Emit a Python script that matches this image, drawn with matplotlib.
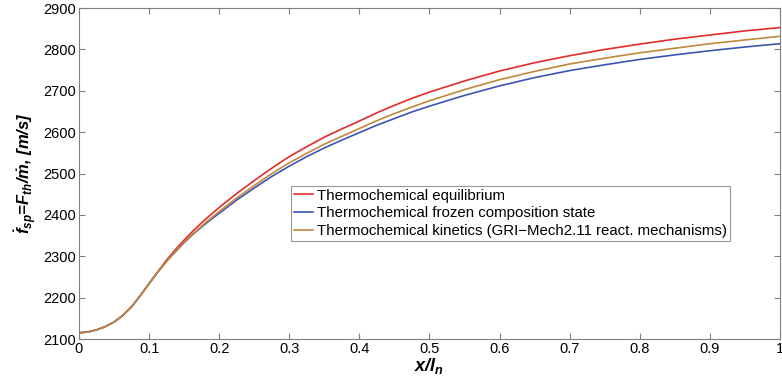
import matplotlib.pyplot as plt

# x/l_n positions
x = [0, 0.0125, 0.025, 0.0375, 0.05, 0.0625, 0.075, 0.0875, 0.1, 0.1125, 0.125,
     0.1375, 0.15, 0.1625, 0.175, 0.1875, 0.2, 0.225, 0.25, 0.275, 0.3, 0.325,
     0.35, 0.375, 0.4, 0.425, 0.45, 0.475, 0.5, 0.55, 0.6, 0.65, 0.7, 0.75,
     0.8, 0.85, 0.9, 0.95, 1.0]

# specific thrust [m/s]
equilibrio = [2115, 2117, 2122, 2130, 2141, 2157, 2178, 2205, 2234, 2263, 2291,
              2316, 2339, 2361, 2381, 2400, 2418, 2452, 2483, 2513, 2541, 2565,
              2588, 2608, 2627, 2647, 2665, 2682, 2697, 2724, 2748, 2768, 2785, 2800,
              2813, 2825, 2835, 2845, 2853]
congelado = [2115, 2117, 2122, 2130, 2141, 2157, 2178, 2205, 2234, 2262, 2288,
             2311, 2333, 2353, 2371, 2388, 2404, 2436, 2465, 2493, 2518, 2541,
             2562, 2581, 2599, 2617, 2633, 2649, 2663, 2689, 2712, 2732, 2749, 2763,
             2776, 2787, 2797, 2806, 2814]
cinetica = [2115, 2117, 2122, 2130, 2141, 2157, 2178, 2205, 2234, 2262, 2288,
            2312, 2334, 2354, 2373, 2391, 2408, 2441, 2471, 2500, 2526, 2549,
            2571, 2590, 2609, 2628, 2645, 2661, 2676, 2703, 2727, 2747, 2765, 2779,
            2792, 2803, 2814, 2823, 2832]

nomes = ['Thermochemical equilibrium',
         'Thermochemical frozen composition state',
         'Thermochemical kinetics (GRI\u2212Mech2.11 react. mechanisms)']
cores = ['#e32b2b', '#3b55b3', '#c0883a']

plt.rcParams['font.family'] = ['Liberation Sans', 'DejaVu Sans']
plt.rcParams['mathtext.fontset'] = 'custom'
plt.rcParams['mathtext.rm'] = 'Liberation Sans:bold:italic'
plt.rcParams['mathtext.it'] = 'Liberation Sans:bold:italic'
plt.rcParams['mathtext.bf'] = 'Liberation Sans:bold:italic'

fig = plt.figure(figsize=(7.82, 3.87), dpi=100)
ax = fig.add_axes([0.101, 0.124, 0.8964, 0.855])

for serie, nome, cor in zip([equilibrio, congelado, cinetica], nomes, cores):
    ax.plot(x, serie, color=cor, linewidth=1.2, label=nome)

ax.set_xlim(0, 1)
ax.set_ylim(2100, 2900)
ax.set_xticks([0, 0.1, 0.2, 0.3, 0.4, 0.5, 0.6, 0.7, 0.8, 0.9, 1])
ax.set_xticklabels(['0', '0.1', '0.2', '0.3', '0.4', '0.5', '0.6', '0.7', '0.8', '0.9', '1'])
ax.set_yticks(range(2100, 2901, 100))
ax.tick_params(direction='in', length=4, width=0.8, color='#808080',
               top=True, right=True, labelsize=10.5, pad=2)
for s in ax.spines.values():
    s.set_color('#808080')
    s.set_linewidth(0.8)

ax.set_xlabel(r'$x/l_n$', fontsize=13, labelpad=0)
ax.set_ylabel(r'$\dot{f}_{sp}$=$F_{th}$/$\dot{m}$, [m/s]', fontsize=12, labelpad=3,
              fontweight='bold', style='italic')

leg = ax.legend(loc='lower left', bbox_to_anchor=(0.302, 0.296), fontsize=10.8,
                handlelength=1.3, handletextpad=0.25, borderpad=0.2, labelspacing=0.25,
                frameon=True, fancybox=False, borderaxespad=0)
leg.get_frame().set_edgecolor('#808080')
leg.get_frame().set_linewidth(0.8)

plt.savefig('out.png', dpi=100)
